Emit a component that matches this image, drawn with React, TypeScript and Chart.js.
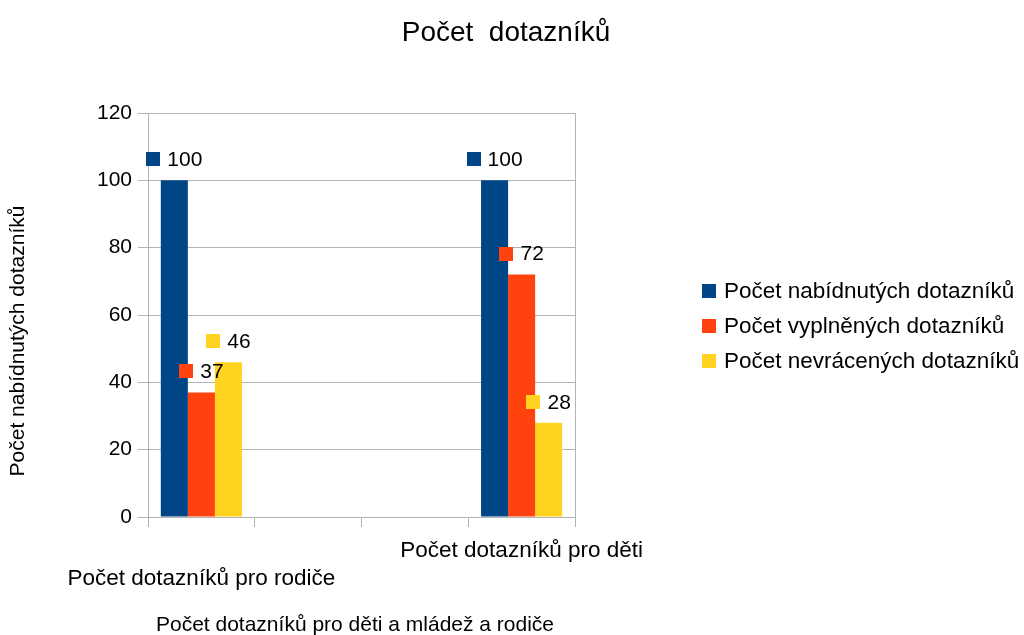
import React, { useEffect, useRef } from "react";
import { Chart, registerables } from "chart.js";

Chart.register(...registerables);

const chartTitle = "Počet  dotazníků";
const xAxisTitle = "Počet dotazníků pro děti a mládež a rodiče";
const yAxisTitle = "Počet nabídnutých dotazníků";
const categories = ["Počet dotazníků pro rodiče", "", "", "Počet dotazníků pro děti"];
const seriesLabels = [
  "Počet nabídnutých dotazníků",
  "Počet vyplněných dotazníků",
  "Počet nevrácených dotazníků",
];
const offered = [100, null, null, 100];
const filled = [37, null, null, 72];
const notReturned = [46, null, null, 28];
const yMin = 0;
const yMax = 120;
const yStep = 20;

const colors = ["#004586", "#ff420e", "#ffd320"];
const FONT = '"Liberation Sans", Arial, sans-serif';
const GRID = "#b3b3b3";

const overlay = {
  id: "overlay",
  afterDraw(chart: any) {
    const ctx = chart.ctx as CanvasRenderingContext2D;
    ctx.save();
    // data labels
    chart.data.datasets.forEach((ds: any, i: number) => {
      const meta = chart.getDatasetMeta(i);
      meta.data.forEach((el: any, j: number) => {
        const v = ds.data[j];
        if (v === null || v === undefined) return;
        ctx.font = `21px ${FONT}`;
        const txt = String(v);
        const tw = ctx.measureText(txt).width;
        const sq = 14;
        const gap = 7;
        const total = sq + gap + tw;
        const cy = el.y - 21;
        const x0 = el.x - total / 2;
        ctx.fillStyle = ds.backgroundColor;
        ctx.fillRect(Math.round(x0), Math.round(cy - sq / 2), sq, sq);
        ctx.fillStyle = "#000";
        ctx.textAlign = "left";
        ctx.textBaseline = "middle";
        ctx.fillText(txt, x0 + sq + gap, cy + 1);
      });
    });
    // legend
    chart.data.datasets.forEach((ds: any, i: number) => {
      const cy = 291 + i * 35;
      ctx.fillStyle = ds.backgroundColor;
      ctx.fillRect(702, cy - 7, 14, 14);
      ctx.fillStyle = "#000";
      ctx.font = `22.5px ${FONT}`;
      ctx.textAlign = "left";
      ctx.textBaseline = "middle";
      ctx.fillText(ds.label, 724, cy + 1);
    });
    // title
    ctx.font = `28px ${FONT}`;
    ctx.textAlign = "center";
    ctx.textBaseline = "middle";
    ctx.fillStyle = "#000";
    ctx.fillText(chartTitle, 506, 33);
    // x axis title
    ctx.font = `21px ${FONT}`;
    ctx.fillText(xAxisTitle, 355, 625);
    // y axis title
    ctx.translate(18, 341);
    ctx.rotate(-Math.PI / 2);
    ctx.fillText(yAxisTitle, 0, 0);
    ctx.restore();
  },
};

export default function App() {
  const ref = useRef<HTMLCanvasElement | null>(null);
  useEffect(() => {
    document.body.style.margin = "0";
    if (!ref.current) return;
    const chart = new Chart(ref.current, {
      type: "bar",
      data: {
        labels: categories,
        datasets: [offered, filled, notReturned].map((d, i) => ({
          label: seriesLabels[i],
          data: d,
          backgroundColor: colors[i],
          borderWidth: 0,
          categoryPercentage: 0.76,
          barPercentage: 1,
        })),
      },
      options: {
        responsive: false,
        animation: false,
        layout: { padding: { left: 0, top: 113, right: 449, bottom: 0 } },
        plugins: {
          legend: { display: false },
          title: { display: false },
          tooltip: { enabled: false },
        },
        scales: {
          x: {
            afterFit: (s: any) => {
              s.height = 118;
            },
            grid: {
              offset: true,
              drawOnChartArea: true,
              color: (c: any) => (c.type === "tick" && c.index !== 0 ? "rgba(0,0,0,0)" : GRID),
              tickColor: GRID,
              tickLength: 10,
              lineWidth: 1,
            },
            border: { display: true, color: GRID },
            ticks: {
              autoSkip: false,
              maxRotation: 0,
              minRotation: 0,
              padding: 10,
              color: "#000",
              font: { family: FONT, size: 22.5, lineHeight: 28 / 22.5 },
              callback: (_v: any, i: number) => (i % 2 === 0 ? ["", categories[i]] : categories[i]),
            },
          },
          y: {
            min: yMin,
            max: yMax,
            afterFit: (s: any) => {
              s.width = 148;
            },
            grid: { color: GRID, tickColor: GRID, tickLength: 10 },
            border: { display: true, color: GRID },
            ticks: {
              stepSize: yStep,
              padding: 6,
              color: "#000",
              font: { family: FONT, size: 21 },
            },
          },
        },
      },
      plugins: [overlay],
    });
    return () => chart.destroy();
  }, []);
  return <canvas ref={ref} width={1024} height={635} style={{ display: "block", width: 1024, height: 635 }} />;
}
